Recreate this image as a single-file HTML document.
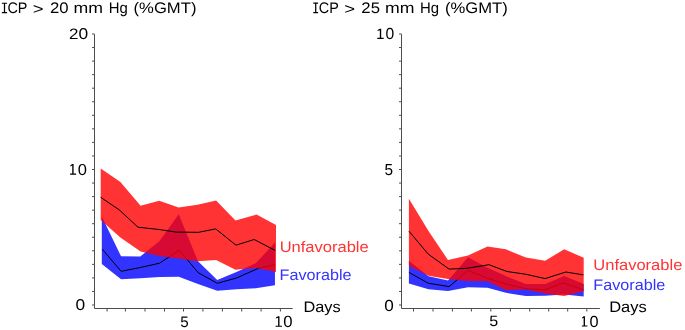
<!DOCTYPE html>
<html><head><meta charset="utf-8"><style>
html,body{margin:0;padding:0;background:#fff;width:685px;height:330px;overflow:hidden}
svg{display:block;will-change:transform;text-rendering:geometricPrecision;font-family:"Liberation Sans",sans-serif}
</style></head><body>
<svg width="685" height="330" viewBox="0 0 685 330">
<path d="M94.5,34.1V308.5H292.7" fill="none" stroke="#4d4d4d" stroke-width="1"/>
<path d="M92,305.00H94.5M92,291.45H94.5M92,277.90H94.5M92,264.35H94.5M92,250.80H94.5M92,237.25H94.5M92,223.70H94.5M92,210.15H94.5M92,196.60H94.5M92,183.05H94.5M92,169.50H94.5M92,155.95H94.5M92,142.40H94.5M92,128.85H94.5M92,115.30H94.5M92,101.75H94.5M92,88.20H94.5M92,74.65H94.5M92,61.10H94.5M92,47.55H94.5M92,34.00H94.5M107.10,308.5V311.5M125.40,308.5V311.5M145.00,308.5V311.5M164.50,308.5V311.5M183.50,308.5V311.5M202.90,308.5V311.5M222.40,308.5V311.5M241.70,308.5V311.5M261.10,308.5V311.5M280.40,308.5V311.5" fill="none" stroke="#4d4d4d" stroke-width="1"/>
<path d="M401.5,34.1V308.5H599.9" fill="none" stroke="#4d4d4d" stroke-width="1"/>
<path d="M399,305.00H401.5M399,291.45H401.5M399,277.90H401.5M399,264.35H401.5M399,250.80H401.5M399,237.25H401.5M399,223.70H401.5M399,210.15H401.5M399,196.60H401.5M399,183.05H401.5M399,169.50H401.5M399,155.95H401.5M399,142.40H401.5M399,128.85H401.5M399,115.30H401.5M399,101.75H401.5M399,88.20H401.5M399,74.65H401.5M399,61.10H401.5M399,47.55H401.5M399,34.00H401.5M413.50,308.5V311.5M433.00,308.5V311.5M452.40,308.5V311.5M471.40,308.5V311.5M490.80,308.5V311.5M510.40,308.5V311.5M529.70,308.5V311.5M548.70,308.5V311.5M567.70,308.5V311.5M586.80,308.5V311.5" fill="none" stroke="#4d4d4d" stroke-width="1"/>
<polygon points="101.80,216.40 121.04,256.30 140.28,256.50 159.52,241.00 178.76,214.20 198.00,261.30 217.24,280.10 236.48,272.00 255.72,263.30 274.96,242.50 274.96,285.20 255.72,288.30 236.48,289.30 217.24,290.80 198.00,284.00 178.76,276.80 159.52,277.00 140.28,278.30 121.04,279.20 101.80,264.10" fill="#3333ff" stroke="none"/>
<polyline points="102.20,249.10 121.10,271.30 140.30,267.50 159.50,263.20 179.40,250.20 198.20,272.70 217.30,283.30 236.50,278.00 258.50,268.30 275.00,264.80" fill="none" stroke="#000" stroke-width="1"/>
<polygon points="100.70,168.40 120.40,182.00 140.60,205.70 159.20,200.80 178.60,207.50 197.50,204.80 216.10,200.50 235.50,220.50 256.50,214.50 276.00,225.10 276.00,272.00 256.50,268.00 235.50,269.80 216.10,260.00 197.50,261.30 178.60,258.50 159.20,256.00 140.60,251.50 120.40,237.50 100.70,220.00" fill="rgb(255,0,0)" fill-opacity="0.8" stroke="none"/>
<polyline points="100.50,197.20 119.00,209.70 138.00,227.20 159.00,229.50 176.50,232.10 198.60,232.30 215.70,228.90 236.00,245.20 254.20,239.50 275.30,250.50" fill="none" stroke="#000" stroke-width="1"/>
<polygon points="408.90,260.70 428.50,276.20 448.00,280.50 468.00,257.30 487.50,267.80 505.80,276.00 525.80,284.00 545.20,284.10 564.20,276.00 583.70,283.90 583.70,296.50 564.20,294.60 545.20,295.80 525.80,296.00 505.80,292.80 487.50,287.80 468.00,287.20 448.00,290.90 428.50,289.20 408.90,283.40" fill="#3333ff" stroke="none"/>
<polyline points="408.90,272.40 428.20,283.20 449.10,286.60 468.30,270.40 487.50,278.30 506.00,284.00 526.00,288.80 545.10,289.90 563.30,282.80 583.40,289.90" fill="none" stroke="#000" stroke-width="1"/>
<polygon points="408.90,198.80 428.50,231.00 448.00,260.10 468.00,255.50 487.50,246.40 505.80,249.30 525.80,257.50 545.20,260.80 564.20,249.20 583.70,257.80 583.70,291.30 564.20,296.00 545.20,293.50 525.80,289.50 505.80,290.00 487.50,281.30 468.00,281.00 448.00,279.10 428.50,275.70 408.90,266.00" fill="rgb(255,0,0)" fill-opacity="0.8" stroke="none"/>
<polyline points="408.90,231.10 428.20,254.10 449.10,269.10 467.00,268.30 488.90,264.70 507.00,271.50 526.00,274.30 545.10,278.60 565.90,272.00 583.40,274.90" fill="none" stroke="#000" stroke-width="1"/>
<path d="M1.90,2.70H7.10V3.85H5.12V12.05H7.10V13.20H1.90V12.05H3.88V3.85H1.90Z" fill="#000"/>
<text transform="translate(7.47,13.20) scale(0.9405,1.0000)" fill="#000" font-size="15.3">CP</text>
<text transform="translate(32.79,14.00) scale(1.2108,1.0000)" fill="#000" font-size="15.3">&gt;</text>
<text transform="translate(49.96,13.20) scale(1.0926,1.0000)" fill="#000" font-size="15.3">20</text>
<text transform="translate(73.53,13.20) scale(1.1549,1.0000)" fill="#000" font-size="15.3">mm</text>
<text transform="translate(108.68,13.20) scale(0.9759,1.0000)" fill="#000" font-size="15.3">Hg</text>
<text transform="translate(133.57,13.20) scale(1.0879,1.0000)" fill="#000" font-size="15.3">(%GMT)</text>
<path d="M313.30,2.60H318.10V3.75H316.33V12.00H318.10V13.15H313.30V12.00H315.08V3.75H313.30Z" fill="#000"/>
<text transform="translate(318.87,13.20) scale(0.9405,1.0000)" fill="#000" font-size="15.3">CP</text>
<text transform="translate(344.19,14.00) scale(1.2108,1.0000)" fill="#000" font-size="15.3">&gt;</text>
<text transform="translate(361.36,13.20) scale(1.0957,1.0000)" fill="#000" font-size="15.3">25</text>
<text transform="translate(384.93,13.20) scale(1.1549,1.0000)" fill="#000" font-size="15.3">mm</text>
<text transform="translate(420.08,13.20) scale(0.9759,1.0000)" fill="#000" font-size="15.3">Hg</text>
<text transform="translate(444.97,13.20) scale(1.0879,1.0000)" fill="#000" font-size="15.3">(%GMT)</text>
<text transform="translate(69.04,38.90) scale(1.1119,0.9829)" fill="#000" font-size="15.3">2</text>
<text transform="translate(78.42,39.15) scale(1.1348,1.0247)" fill="#000" font-size="15.3">0</text>
<path d="M70.10,174.70H76.10V173.55H73.58V164.10H72.23L70.40,165.35V166.45L72.23,165.55V173.55H70.10Z" fill="#000"/>
<text transform="translate(77.65,174.85) scale(1.0801,1.0339)" fill="#000" font-size="15.3">0</text>
<text transform="translate(75.42,310.45) scale(1.1348,1.0247)" fill="#000" font-size="15.3">0</text>
<path d="M377.30,38.90H383.65V37.75H381.18V28.70H379.82L377.60,29.95V31.05L379.82,30.15V37.75H377.30Z" fill="#000"/>
<text transform="translate(385.49,39.34) scale(1.0255,1.0432)" fill="#000" font-size="15.3">0</text>
<text transform="translate(384.38,174.84) scale(1.0063,1.0398)" fill="#000" font-size="15.3">5</text>
<text transform="translate(384.23,310.54) scale(1.1212,1.0524)" fill="#000" font-size="15.3">0</text>
<text transform="translate(180.19,326.65) scale(0.9925,0.9929)" fill="#000" font-size="15.3">5</text>
<path d="M275.60,326.80H282.00V325.65H279.48V316.20H278.12L275.90,317.45V318.55L278.12,317.65V325.65H275.60Z" fill="#000"/>
<text transform="translate(283.25,327.04) scale(1.0938,1.0616)" fill="#000" font-size="15.3">0</text>
<text transform="translate(489.26,326.45) scale(1.0477,0.9835)" fill="#000" font-size="15.3">5</text>
<path d="M581.85,326.60H587.40V325.45H584.97V316.20H583.62L582.15,317.45V318.55L583.62,317.65V325.45H581.85Z" fill="#000"/>
<text transform="translate(589.46,326.94) scale(1.0665,1.0524)" fill="#000" font-size="15.3">0</text>
<text transform="translate(303.46,312.10) scale(1.0650,1.0000)" fill="#000" font-size="15.3">Days</text>
<text transform="translate(609.15,312.10) scale(1.0771,1.0000)" fill="#000" font-size="15.3">Days</text>
<text transform="translate(279.63,251.60) scale(1.0801,1.0000)" fill="#ff3333" font-size="15.3">Unfavorable</text>
<text transform="translate(279.57,280.00) scale(1.0575,1.0000)" fill="#3333ff" font-size="15.3">Favorable</text>
<text transform="translate(593.33,269.70) scale(1.0789,1.0000)" fill="#ff3333" font-size="15.3">Unfavorable</text>
<text transform="translate(593.27,289.90) scale(1.0590,1.0000)" fill="#3333ff" font-size="15.3">Favorable</text>
</svg>
</body></html>
